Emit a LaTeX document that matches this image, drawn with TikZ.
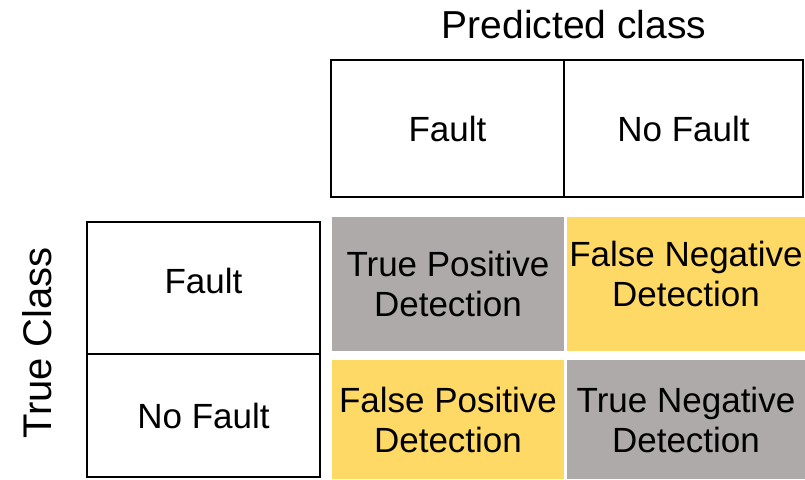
\documentclass[tikz,border=0pt]{standalone}
\usepackage{fontspec}
\setmainfont{Liberation Sans}
\usepackage{xcolor}
\usepackage{tikz}
\definecolor{cellgray}{RGB}{174,170,170}
\definecolor{cellyellow}{RGB}{255,217,102}
\tikzset{
  headbox/.style={draw=black, line width=1.6pt, inner sep=0pt, minimum width=#1},
  cellbox/.style={fill=#1, draw=none, inner sep=0pt, minimum width=233pt, align=center},
  every node/.append style={font=\fontsize{35}{40}\selectfont}
}
\begin{document}
\begin{tikzpicture}[x=1pt,y=-1pt]
\useasboundingbox (0,0) rectangle (805,479);
\node (pred) at (574,25) {\fontsize{39}{40}\selectfont Predicted class};
\node (true) at (37,343) [rotate=90] {\fontsize{40}{40}\selectfont True Class};
\node (pf) at (447.5,128.5) [headbox=233pt, minimum height=137pt] {Fault};
\node (pn) at (683.5,128.5) [headbox=239pt, minimum height=137pt] {No Fault};
\node (tf) at (203.5,288) [headbox=233pt, minimum height=132pt, text depth=14pt] {Fault};
\node (tn) at (203.5,415.5) [headbox=233pt, minimum height=123pt] {No Fault};
\node (tp) at (448,284) [cellbox=cellgray, minimum width=232pt, minimum height=134pt] {True Positive\\Detection};
\node (fn) at (686,284) [cellbox=cellyellow, minimum width=238pt, minimum height=134pt, text depth=20pt] {False Negative\\Detection};
\node (fp) at (448,419.5) [cellbox=cellyellow, minimum width=232pt, minimum height=119pt] {False Positive\\Detection};
\node (tneg) at (686,419.5) [cellbox=cellgray, minimum width=238pt, minimum height=119pt] {True Negative\\Detection};
\end{tikzpicture}
\end{document}
